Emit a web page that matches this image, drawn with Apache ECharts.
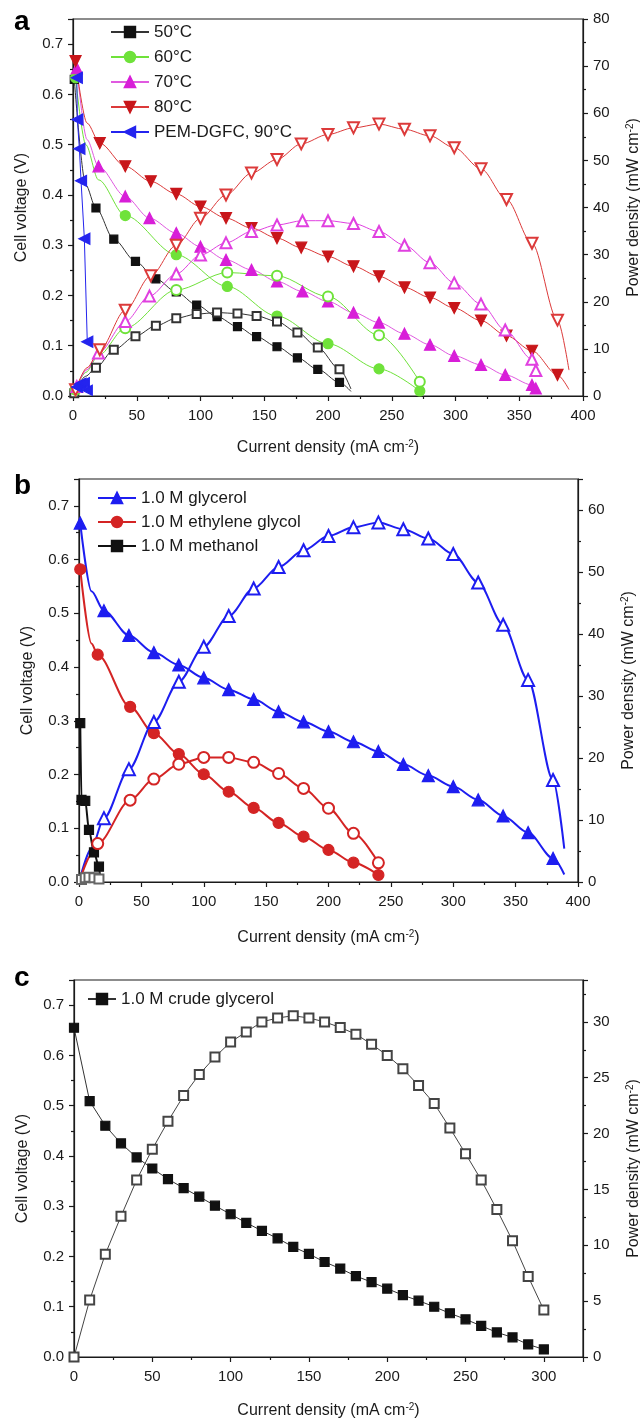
<!DOCTYPE html>
<html>
<head>
<meta charset="utf-8">
<script src="https://cdn.jsdelivr.net/npm/echarts@6/dist/echarts.min.js"></script>
<style>
  html, body { margin: 0; padding: 0; background: #fff; }
  #chart { width: 640px; height: 1418px; }
</style>
</head>
<body>
<div id="chart"></div>
<script>
// ---- panel a: temperature series (current mA cm-2, voltage V, power mW cm-2)
const a50I = [1, 10, 18, 32, 49, 65, 81, 97, 113, 129, 144, 160, 176, 192, 209, 218]
const a50V = [0.63, 0.42, 0.374, 0.312, 0.268, 0.233, 0.207, 0.181, 0.158, 0.138, 0.118, 0.098, 0.076, 0.053, 0.027, 0.009]
const a50P = [0.6, 4.2, 6.0, 9.8, 12.7, 14.9, 16.5, 17.4, 17.7, 17.5, 17.0, 15.8, 13.5, 10.3, 5.7, 1.5]

const a60I = [2, 10, 20, 41, 81, 121, 160, 200, 240, 272]
const a60V = [0.633, 0.50, 0.43, 0.359, 0.281, 0.218, 0.159, 0.104, 0.054, 0.010]
const a60P = [1.3, 5.0, 8.6, 14.4, 22.5, 26.2, 25.5, 21.1, 12.9, 3.0]

const a70I = [3, 11, 20, 41, 60, 81, 100, 120, 140, 160, 180, 200, 220, 240, 260, 280, 299, 320, 339, 360, 363]
const a70V = [0.652, 0.51, 0.457, 0.397, 0.354, 0.324, 0.297, 0.271, 0.251, 0.228, 0.208, 0.188, 0.166, 0.146, 0.124, 0.102, 0.080, 0.062, 0.042, 0.022, 0.015]
const a70P = [2.0, 5.6, 9.1, 15.8, 21.2, 25.9, 29.9, 32.5, 34.9, 36.3, 37.2, 37.2, 36.6, 34.9, 32.0, 28.3, 24.0, 19.5, 14.0, 7.8, 5.4]

const a80I = [2, 11, 21, 41, 61, 81, 100, 120, 140, 160, 179, 200, 220, 240, 260, 280, 299, 320, 340, 360, 380, 389]
const a80V = [0.666, 0.543, 0.503, 0.457, 0.427, 0.402, 0.377, 0.354, 0.334, 0.314, 0.295, 0.2775, 0.258, 0.238, 0.216, 0.196, 0.175, 0.150, 0.120, 0.090, 0.042, 0.013]
const a80P = [1.3, 6.0, 9.8, 18.2, 25.5, 32.0, 37.7, 42.65, 47.3, 50.2, 53.5, 55.5, 56.9, 57.7, 56.6, 55.2, 52.7, 48.2, 41.7, 32.4, 16.1, 5.5]

const a90I = [3, 3.4, 5, 6.3, 8.9, 11.2]
const a90V = [0.633, 0.55, 0.492, 0.428, 0.313, 0.108]
const a90P = [1.9, 1.9, 2.5, 2.7, 2.8, 1.2]

// ---- panel b: fuels
const bGlyI = [1, 10, 20, 40, 60, 80, 100, 120, 140, 160, 180, 200, 220, 240, 260, 280, 300, 320, 340, 360, 380, 389]
const bGlyV = [0.668, 0.541, 0.505, 0.459, 0.427, 0.404, 0.380, 0.358, 0.340, 0.317, 0.298, 0.280, 0.261, 0.243, 0.219, 0.198, 0.1775, 0.153, 0.123, 0.092, 0.044, 0.014]
const bGlyP = [0.7, 5.4, 10.3, 18.2, 25.8, 32.3, 37.95, 42.9, 47.35, 50.8, 53.5, 55.8, 57.2, 58.0, 56.9, 55.4, 52.9, 48.3, 41.5, 32.6, 16.45, 5.4]

const bEgI = [1, 10, 15, 41, 60, 80, 100, 120, 140, 160, 180, 200, 220, 240]
const bEgV = [0.582, 0.444, 0.423, 0.326, 0.277, 0.238, 0.2005, 0.168, 0.138, 0.110, 0.0844, 0.0596, 0.036, 0.013]
const bEgP = [0.5, 4.4, 6.2, 13.2, 16.6, 19.0, 20.1, 20.1, 19.3, 17.5, 15.1, 11.9, 7.85, 3.1]

const bMeI = [1, 2, 5, 8, 12, 16, 17]
const bMeV = [0.2955, 0.153, 0.151, 0.097, 0.055, 0.0285, 0.007]
const bMeP = [0.3, 0.4, 0.7, 0.75, 0.7, 0.5, 0.12]

// ---- panel c: crude glycerol
const cI = [0, 10, 20, 30, 40, 50, 60, 70, 80, 90, 100, 110, 120, 130, 140, 150, 160, 170, 180, 190, 200, 210, 220, 230, 240, 250, 260, 270, 280, 290, 300]
const cV = [0.655, 0.509, 0.460, 0.425, 0.397, 0.375, 0.354, 0.336, 0.319, 0.301, 0.284, 0.267, 0.251, 0.236, 0.219, 0.205, 0.189, 0.176, 0.161, 0.149, 0.136, 0.123, 0.112, 0.100, 0.087, 0.075, 0.062, 0.049, 0.039, 0.025, 0.015]
const cP = [0, 5.1, 9.2, 12.6, 15.85, 18.6, 21.1, 23.4, 25.3, 26.85, 28.2, 29.1, 30.0, 30.35, 30.55, 30.35, 30.0, 29.5, 28.9, 28.0, 27.0, 25.8, 24.3, 22.7, 20.5, 18.2, 15.85, 13.2, 10.4, 7.2, 4.2]

const FONT = 'Liberation Sans, Arial, sans-serif'
const INK = '#1a1a1a'

const chart = echarts.init(document.getElementById('chart'))

function mkLine (name, axisIdx, xs, ys, o) {
  const hide = o.hide || []
  return {
    name: name,
    type: 'line',
    xAxisIndex: axisIdx[0],
    yAxisIndex: axisIdx[1],
    data: xs.map((x, i) => [x, ys[i]]),
    smooth: o.smooth === undefined ? 0.3 : o.smooth,
    smoothMonotone: 'x',
    symbol: o.symbol,
    symbolRotate: o.rotate || 0,
    symbolSize: (v, p) => (hide.indexOf(p.dataIndex) >= 0 ? 0 : o.size),
    showAllSymbol: true,
    lineStyle: { color: o.line || o.color, width: o.width || 1 },
    itemStyle: { color: o.color, borderColor: o.color, borderWidth: o.border || 1.2 },
    emphasis: { disabled: true },
    animation: false
  }
}

const yLabel = v => v.toFixed(1)
const supRich = { s: { fontSize: 10, verticalAlign: 'top', fontFamily: FONT, color: INK, padding: [0, 0, 8, 0] } }

function xAx (grid, max, gap, hideMax) {
  return {
    type: 'value', gridIndex: grid, min: 0, max: max, interval: 50,
    name: 'Current density (mA cm{s|-2})', nameLocation: 'middle', nameGap: gap,
    nameTextStyle: { fontSize: 16, fontFamily: FONT, color: INK, rich: supRich },
    axisLine: { show: true, onZero: false, lineStyle: { color: INK, width: 1.2 } },
    axisTick: { show: true, length: 5, lineStyle: { color: INK, width: 1.2 } },
    minorTick: { show: true, splitNumber: 2, length: 3, lineStyle: { color: INK, width: 1.2 } },
    splitLine: { show: false },
    axisLabel: { fontSize: 15, fontFamily: FONT, color: INK, margin: 12, showMaxLabel: !hideMax }
  }
}

function yLeft (grid, gap) {
  return {
    type: 'value', gridIndex: grid, position: 'left', min: 0, max: 0.75, interval: 0.1,
    name: 'Cell voltage (V)', nameLocation: 'middle', nameGap: gap, nameRotate: 90,
    nameTextStyle: { fontSize: 16, fontFamily: FONT, color: INK },
    axisLine: { show: true, onZero: false, lineStyle: { color: INK, width: 1.2 } },
    axisTick: { show: true, length: 5, lineStyle: { color: INK, width: 1.2 } },
    minorTick: { show: true, splitNumber: 2, length: 3, lineStyle: { color: INK, width: 1.2 } },
    splitLine: { show: false },
    axisLabel: { fontSize: 15, fontFamily: FONT, color: INK, margin: 10, formatter: yLabel, showMaxLabel: false }
  }
}

function yRight (grid, max, interval, gap) {
  return {
    type: 'value', gridIndex: grid, position: 'right', min: 0, max: max, interval: interval,
    name: 'Power density (mW cm{s|-2})', nameLocation: 'middle', nameGap: gap, nameRotate: 90,
    nameTextStyle: { fontSize: 16, fontFamily: FONT, color: INK, rich: supRich },
    axisLine: { show: true, onZero: false, lineStyle: { color: INK, width: 1.2 } },
    axisTick: { show: true, length: 5, lineStyle: { color: INK, width: 1.2 } },
    minorTick: { show: true, splitNumber: 2, length: 3, lineStyle: { color: INK, width: 1.2 } },
    splitLine: { show: false },
    axisLabel: { fontSize: 15, fontFamily: FONT, color: INK, margin: 10, showMaxLabel: max % interval === 0 }
  }
}

function legendAt (names, left, top, gap, width) {
  return {
    data: names, left: left, top: top, orient: 'vertical', padding: 0,
    itemWidth: width, itemHeight: 13, itemGap: gap,
    textStyle: { fontSize: 17, fontFamily: FONT, color: INK, lineHeight: 18 },
    selectedMode: false
  }
}

// outerBoundsMode none: keep the plot boxes where they are even if titles sit near the edge
const gridStyle = { show: true, borderColor: INK, borderWidth: 1.2, backgroundColor: 'transparent', containLabel: false, outerBoundsMode: 'none' }

const c50 = '#111111'
const c60 = '#6fe23a'
const c70 = '#d81ed8'
const c80 = '#c8161a'
const c80line = '#dc3a3a'
const c90 = '#2424ee'
const bBlue = '#1d1df0'
const bRed = '#d42424'

const series = [
  // panel a, voltage
  mkLine('50°C', [0, 0], a50I, a50V, { color: c50, line: '#333', symbol: 'rect', size: 8, hide: [1, 15] }),
  mkLine('60°C', [0, 0], a60I, a60V, { color: c60, symbol: 'circle', size: 10, hide: [1, 2] }),
  mkLine('70°C', [0, 0], a70I, a70V, { color: c70, line: '#e05ae0', symbol: 'triangle', size: 11, hide: [1] }),
  mkLine('80°C', [0, 0], a80I, a80V, { color: c80, line: c80line, symbol: 'triangle', rotate: 180, size: 11, hide: [1, 21] }),
  mkLine('PEM-DGFC, 90°C', [0, 0], a90I, a90V, { color: c90, symbol: 'triangle', rotate: 90, size: 11, smooth: false }),
  // panel a, power
  mkLine('50°C P', [0, 1], a50I, a50P, { color: '#333', symbol: 'emptyRect', size: 8, hide: [1, 15] }),
  mkLine('60°C P', [0, 1], a60I, a60P, { color: c60, symbol: 'emptyCircle', size: 10, hide: [1, 2] }),
  mkLine('70°C P', [0, 1], a70I, a70P, { color: '#e040e0', symbol: 'emptyTriangle', size: 11, hide: [1] }),
  mkLine('80°C P', [0, 1], a80I, a80P, { color: c80line, symbol: 'emptyTriangle', rotate: 180, size: 11, hide: [1, 21] }),
  mkLine('90°C P', [0, 1], a90I, a90P, { color: c90, symbol: 'triangle', rotate: 90, size: 10, smooth: false }),
  // panel b, voltage
  mkLine('1.0 M glycerol', [1, 2], bGlyI, bGlyV, { color: bBlue, width: 2, symbol: 'triangle', size: 12, hide: [1, 21] }),
  mkLine('1.0 M ethylene glycol', [1, 2], bEgI, bEgV, { color: bRed, width: 2, symbol: 'circle', size: 11, hide: [1] }),
  mkLine('1.0 M methanol', [1, 2], bMeI, bMeV, { color: '#111', width: 2, symbol: 'rect', size: 9, hide: [6] }),
  // panel b, power
  mkLine('glycerol P', [1, 3], bGlyI, bGlyP, { color: bBlue, width: 2, symbol: 'emptyTriangle', size: 12, hide: [0, 1, 21] }),
  mkLine('ethylene glycol P', [1, 3], bEgI, bEgP, { color: bRed, width: 2, symbol: 'emptyCircle', size: 11, hide: [0, 1] }),
  mkLine('methanol P', [1, 3], bMeI, bMeP, { color: '#666', width: 1, symbol: 'emptyRect', size: 9, hide: [0, 6] }),
  // panel c
  mkLine('1.0 M crude glycerol', [2, 4], cI, cV, { color: '#111', line: '#333', symbol: 'rect', size: 9, smooth: false }),
  mkLine('crude glycerol P', [2, 5], cI, cP, { color: '#444', symbol: 'emptyRect', size: 9, smooth: false })
]

const option = {
  backgroundColor: '#fff',
  animation: false,
  textStyle: { fontFamily: FONT },
  grid: [
    Object.assign({ left: 73, top: 19, width: 510, height: 377 }, gridStyle),
    Object.assign({ left: 79, top: 479, width: 499, height: 403 }, gridStyle),
    Object.assign({ left: 74, top: 980, width: 509, height: 377 }, gridStyle)
  ],
  xAxis: [xAx(0, 400, 43, false), xAx(1, 400, 47, false), xAx(2, 325, 45, true)],
  yAxis: [
    yLeft(0, 43), yRight(0, 80, 10, 42),
    yLeft(1, 43), yRight(1, 65, 10, 42),
    yLeft(2, 43), yRight(2, 33.75, 5, 42)
  ],
  legend: [
    legendAt(['50°C', '60°C', '70°C', '80°C', 'PEM-DGFC, 90°C'], 110, 23, 7, 38),
    legendAt(['1.0 M glycerol', '1.0 M ethylene glycol', '1.0 M methanol'], 97, 489, 6, 38),
    legendAt(['1.0 M crude glycerol'], 87, 990, 6, 28)
  ],
  graphic: [
    { type: 'text', left: 14, top: 8, style: { text: 'a', font: 'bold 28px ' + FONT, fill: '#000' } },
    { type: 'text', left: 14, top: 472, style: { text: 'b', font: 'bold 28px ' + FONT, fill: '#000' } },
    { type: 'text', left: 14, top: 964, style: { text: 'c', font: 'bold 28px ' + FONT, fill: '#000' } }
  ],
  series: series
}

chart.setOption(option)
</script>
</body>
</html>
